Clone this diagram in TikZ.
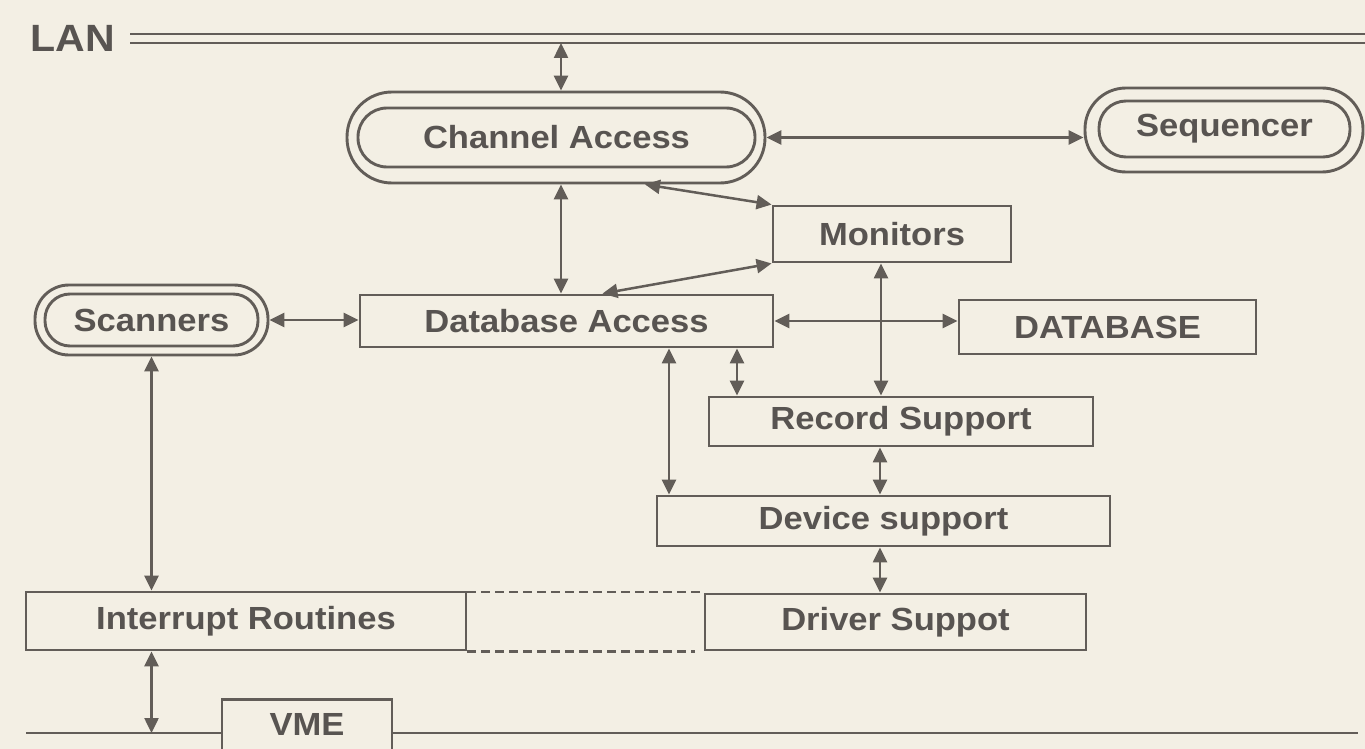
\documentclass[tikz,border=0pt]{standalone}
\usepackage{fontspec}
\setmainfont{Liberation Sans}[FakeStretch=1.08]
\usetikzlibrary{arrows.meta,calc}
\definecolor{linec}{RGB}{98,93,88}
\definecolor{textc}{RGB}{88,84,81}
\definecolor{bgc}{RGB}{243,239,228}
\begin{document}
\begin{tikzpicture}[x=1pt,y=-1pt,
  every node/.style={text=textc,font=\bfseries\fontsize{32}{38}\selectfont},
  box/.style={draw=linec,line width=2.9pt,inner sep=0pt,fill=none},
  rbox/.style={draw=linec,line width=2.9pt,inner sep=0pt},
  conn/.style={draw=linec,line width=2.5pt,{Triangle[length=15pt,width=14pt]}-{Triangle[length=15pt,width=14pt]}},
  plain/.style={draw=linec,line width=2.9pt},
  dline/.style={draw=linec,line width=2.5pt,dash pattern=on 9pt off 5pt}]
\fill[bgc] (0,0) rectangle (1365,749);
\useasboundingbox (0,0) rectangle (1365,749);
% LAN
\node[font=\bfseries\fontsize{38}{44}\selectfont] (lan) at (73,38) {LAN};
\coordinate (lanA1) at (130,34);
\coordinate (lanA2) at (1365,34);
\coordinate (lanB1) at (130,43);
\coordinate (lanB2) at (1365,43);
\draw[plain] (lanA1) -- (lanA2);
\draw[plain] (lanB1) -- (lanB2);
% Channel Access
\node[rbox,minimum width=418pt,minimum height=91pt,rounded corners=45pt] (ca) at (556,137.5) {};
\node[rbox,minimum width=397pt,minimum height=59pt,rounded corners=29pt] (cain) at (556.5,137.5) {Channel Access};
% Sequencer
\node[rbox,minimum width=278pt,minimum height=84pt,rounded corners=41pt] (seq) at (1224,130) {};
\node[rbox,minimum width=251pt,minimum height=56pt,rounded corners=27pt] (seqin) at (1224.5,129) {Sequencer};
% Scanners
\node[rbox,minimum width=233pt,minimum height=70pt,rounded corners=34pt] (scan) at (151.5,320) {};
\node[rbox,minimum width=213pt,minimum height=52pt,rounded corners=25pt] (scanin) at (151.5,320) {Scanners};
% boxes
\node[box,minimum width=238pt,minimum height=56pt] (mon) at (892,234) {Monitors};
\node[box,minimum width=413pt,minimum height=52pt] (da) at (566.5,321) {Database Access};
\node[box,minimum width=297pt,minimum height=54pt] (db) at (1107.5,327) {DATABASE};
\node[box,minimum width=384pt,minimum height=49pt] (rs) at (901,421.5) {Record Support};
\node[box,minimum width=453pt,minimum height=50pt] (ds) at (883.5,521) {Device support};
\node[box,minimum width=381pt,minimum height=56pt] (drs) at (895.5,622) {Driver Suppot};
\node[box,minimum width=440pt,minimum height=58pt] (ir) at (246,621) {Interrupt Routines};
\node[box,minimum width=170pt,minimum height=80pt,anchor=north] (vme) at (307,698) {};
\node (vmet) at (307,724) {VME};
% VME bus
\coordinate (vmeL) at (26,733);
\coordinate (vmeR) at (1358,733);
\draw[plain] (vmeL) -- (vmeL -| vme.west);
\draw[plain] (vmeR -| vme.east) -- (vmeR);
% connectors
\coordinate (lanx) at (561,43);
\draw[conn] (lanx) -- (lanx |- ca.north);
\draw[conn] (ca.east) -- (ca.east -| seq.west);
\draw[conn] ([xshift=5pt]ca.south) -- ([xshift=5pt]ca.south |- da.north);
\draw[conn] ([xshift=89pt]ca.south) -- (mon.north west);
\draw[conn] (mon.south west) -- ([xshift=36pt]da.north);
\draw[conn] (scan.east) -- (scan.east -| da.west);
\draw[conn] (da.east) -- (da.east -| db.west);
\draw[conn] ([xshift=-11pt]mon.south) -- ([xshift=-11pt]mon.south |- rs.north);
\draw[conn] ([xshift=170.5pt]da.south) -- ([xshift=170.5pt]da.south |- rs.north);
\draw[conn] ([xshift=102.5pt]da.south) -- ([xshift=102.5pt]da.south |- ds.north);
\draw[conn] ([xshift=-21pt]rs.south) -- ([xshift=-21pt]rs.south |- ds.north);
\draw[conn] ([xshift=-3.5pt]ds.south) -- ([xshift=-3.5pt]ds.south |- drs.north);
\draw[conn] (scan.south) -- (scan.south |- ir.north);
\draw[conn] (scan.south |- ir.south) -- (scan.south |- vmeL);
% dashed links
\draw[dline] ([yshift=-1.5pt]ir.north east) -- ([yshift=-1.5pt]ir.north east -| drs.west);
\draw[dline] (ir.south east) -- ([xshift=-9pt]ir.south east -| drs.west);
\end{tikzpicture}
\end{document}
